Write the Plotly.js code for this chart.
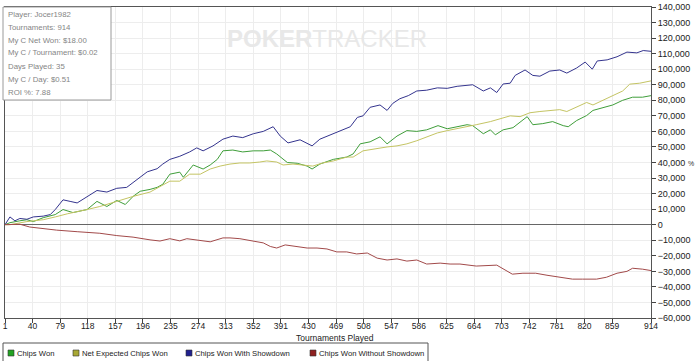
<!DOCTYPE html>
<html>
<head>
<meta charset="utf-8">
<script src="https://cdn.plot.ly/plotly-3.0.1.min.js"></script>
<style>html,body{margin:0;padding:0;background:#fff;}#chart{width:700px;height:361px;}</style>
</head>
<body>
<div id="chart"></div>
<script>
// ---- Data (tournament number, chips) ----
const xTickVals = [1,40,79,118,157,196,235,274,313,352,391,430,469,508,547,586,625,664,703,742,781,820,859,914];

const showdownX = [1,8,15,22,32,41,55,65,72,83,93,103,117,131,145,159,173,192,202,216,224,234,248,262,272,281,295,309,323,337,352,366,380,390,401,418,435,446,460,474,489,499,507,517,531,541,549,559,571,583,597,612,626,640,654,662,677,687,696,705,715,722,736,747,757,771,785,795,809,821,831,838,852,866,880,894,903,914];
const showdownY = [0,5000,2500,4000,3500,5000,5500,6500,9750,16000,15000,14000,18000,22000,21000,23400,24000,30500,34000,36000,39000,42000,44000,46800,49400,47500,50700,55000,57000,56000,58500,60000,63000,57000,52600,54600,50700,55000,57500,60500,63000,69000,70000,75500,77000,73500,78000,81000,83000,86000,86500,88000,87700,89000,89700,90000,86000,88000,85000,90500,91000,96000,99500,96000,95500,98800,99500,97500,100800,104600,100000,105300,106000,108000,111000,110500,112000,111500];

const wonX = [1,8,22,32,41,55,72,83,97,117,131,145,159,171,182,192,206,216,224,234,248,253,267,281,291,301,309,323,337,352,366,376,385,400,414,428,435,446,465,484,493,503,517,531,541,555,569,583,597,613,626,640,654,662,677,687,694,705,719,739,747,761,775,790,797,809,823,832,846,860,874,888,902,914];
const wonY = [0,1300,2500,3200,2000,4500,6500,9750,7800,9750,15000,11700,15600,13000,18200,21500,22700,24000,26000,32500,33800,30500,38400,35800,38400,42000,47500,48000,46800,47500,47500,48000,45500,40000,39500,37700,35800,39000,42000,43500,45500,52000,53300,56500,52000,57000,60500,60000,61000,63700,61700,63000,64300,63700,58500,61000,57800,61000,62400,69500,64300,65000,66300,63700,63000,67000,70200,73500,75500,77000,80000,82000,82000,83000];

const expectedX = [1,8,32,55,72,89,117,135,159,182,206,220,234,248,262,277,291,305,319,333,347,361,371,385,394,408,422,436,450,465,484,493,507,521,541,555,569,583,597,612,626,640,654,667,687,701,715,729,743,757,771,785,795,809,823,832,846,860,874,884,898,914];
const expectedY = [0,0,2000,3200,5000,7000,9750,11700,15000,18200,21000,24300,28000,28000,32500,32500,35800,37700,39000,39700,39700,40300,41000,40300,38400,39000,38400,37700,39700,41000,43500,43500,47500,48700,50000,50700,52000,54000,56500,59000,60500,61700,63000,64300,66300,68000,70000,69500,72000,72800,73500,74000,72800,75500,78600,77000,80000,82600,86000,90400,91000,92500];

const noShowdownX = [1,8,18,22,36,55,74,103,135,159,182,206,220,234,248,258,277,291,309,319,333,352,366,376,385,397,408,428,442,456,470,484,498,513,527,541,555,569,583,597,616,630,644,667,696,709,718,733,751,767,785,803,817,837,851,866,880,888,902,914];
const noShowdownY = [0,0,400,300,-1500,-2500,-3500,-4500,-5500,-7000,-8000,-9750,-10500,-9000,-10400,-9000,-10400,-11000,-8500,-8500,-9000,-10400,-11700,-14000,-15000,-13000,-13600,-15000,-15000,-15600,-17500,-17500,-18800,-18200,-21500,-22700,-22000,-23400,-22700,-25300,-24700,-25300,-25300,-26600,-26000,-29200,-31800,-31200,-31200,-32500,-33800,-35000,-35000,-35000,-33800,-31200,-30000,-28000,-28600,-29500];

const seriesNames = ["Chips Won","Net Expected Chips Won","Chips Won With Showdown","Chips Won Without Showdown"];
const lineColors = ["#3f9e3a","#c4c463","#34348e","#a24a4a"];
const swatchColors = ["#22a322","#a8a834","#20208f","#8f2020"];

const statLines = ["Player: Jocer1982","Tournaments: 914","My C Net Won: $18.00","My C / Tournament: $0.02","Days Played: 35","My C / Day: $0.51","ROI %: 7.88"];

// ---- Geometry helpers (pixel -> paper) ----
const L = 5, R = 651, T = 7, B = 318;
const px = v => (v - L) / (R - L);
const py = v => (B - v) / (B - T);
const FONT = 'Liberation Sans, Arial, sans-serif';

const traces = [
  {x: wonX, y: wonY, name: seriesNames[0], color: lineColors[0]},
  {x: expectedX, y: expectedY, name: seriesNames[1], color: lineColors[1]},
  {x: showdownX, y: showdownY, name: seriesNames[2], color: lineColors[2]},
  {x: noShowdownX, y: noShowdownY, name: seriesNames[3], color: lineColors[3]}
].map(s => ({
  type: 'scatter', mode: 'lines', x: s.x, y: s.y, name: s.name,
  line: {color: s.color, width: 1}, showlegend: false, hoverinfo: 'x+y+name'
}));

const shapes = [];
const annotations = [];

// Stats box
shapes.push({type: 'rect', xref: 'paper', yref: 'paper', x0: px(3), x1: px(111), y0: py(100), y1: py(7),
  fillcolor: '#ffffff', line: {color: '#9a9a9a', width: 1}, layer: 'above'});
statLines.forEach((t, i) => {
  annotations.push({xref: 'paper', yref: 'paper', x: px(6), y: py(14 + 13 * i), xanchor: 'left', yanchor: 'middle',
    text: t, showarrow: false, font: {family: FONT, size: 7.8, color: '#858585'}});
});

// Watermark
annotations.push({xref: 'paper', yref: 'paper', x: px(327), y: py(38), xanchor: 'center', yanchor: 'middle',
  text: '<b>POKER</b>TRACKER', showarrow: false,
  font: {family: FONT, size: 24, color: '#e8e8e8'}});

// "%" label
annotations.push({xref: 'paper', yref: 'paper', x: px(691), y: py(163), xanchor: 'center', yanchor: 'middle',
  text: '%', showarrow: false, font: {family: FONT, size: 7, color: '#333'}});

// X axis title
annotations.push({xref: 'paper', yref: 'paper', x: px(335), y: py(338), xanchor: 'center', yanchor: 'middle',
  text: 'Tournaments Played', showarrow: false, font: {family: FONT, size: 8.5, color: '#222'}});

// Custom legend
shapes.push({type: 'rect', xref: 'paper', yref: 'paper', x0: px(3), x1: px(428), y0: py(364), y1: py(343),
  fillcolor: 'rgba(0,0,0,0)', line: {color: '#555', width: 1}});
const legendPos = [8, 73, 186, 310];
seriesNames.forEach((n, i) => {
  const sx = legendPos[i];
  shapes.push({type: 'rect', xref: 'paper', yref: 'paper', x0: px(sx), x1: px(sx + 6), y0: py(356), y1: py(350),
    fillcolor: swatchColors[i], line: {color: '#333', width: 0.6}});
  annotations.push({xref: 'paper', yref: 'paper', x: px(sx + 7), y: py(353), xanchor: 'left', yanchor: 'middle',
    text: n, showarrow: false, font: {family: FONT, size: 7.7, color: '#222'}});
});

const layout = {
  width: 700, height: 361,
  margin: {l: L, r: 700 - R, t: T, b: 361 - B},
  paper_bgcolor: '#ffffff', plot_bgcolor: '#ffffff',
  showlegend: false,
  font: {family: FONT, size: 9, color: '#222'},
  xaxis: {
    range: [1, 914], tickmode: 'array', tickvals: xTickVals, ticktext: xTickVals.map(String),
    showgrid: true, gridcolor: '#ededed', gridwidth: 1,
    showline: true, linecolor: '#555', linewidth: 1, mirror: true,
    ticks: 'outside', ticklen: 4, tickcolor: '#444', tickfont: {size: 8.5, color: '#222'},
    ticklabelstandoff: -4,
    zeroline: false
  },
  yaxis: {
    side: 'right', range: [-60000, 140000], dtick: 10000, tick0: 0, tickformat: ',d',
    showgrid: true, gridcolor: '#ededed', gridwidth: 1,
    showline: true, linecolor: '#555', linewidth: 1, mirror: true,
    ticks: 'outside', ticklen: 4, tickcolor: '#444', tickfont: {size: 9, color: '#222'},
    zeroline: true, zerolinecolor: '#666', zerolinewidth: 1.5
  },
  shapes: shapes,
  annotations: annotations
};

Plotly.newPlot('chart', traces, layout, {displayModeBar: false, staticPlot: true});
</script>
</body>
</html>
